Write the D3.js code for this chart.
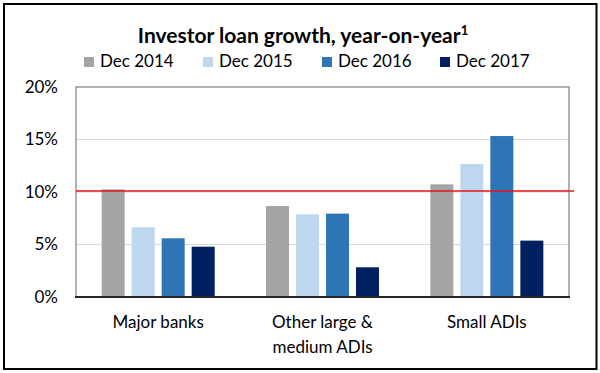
<!DOCTYPE html>
<html><head><meta charset="utf-8">
<script src="https://cdn.jsdelivr.net/npm/d3@7"></script>
<style>
html,body{margin:0;padding:0;background:#fff;}
svg{display:block;font-family:Lato,"Open Sans",sans-serif;}
</style></head>
<body>
<svg id="chart" width="600" height="373"></svg>
<script>
const categories = [["Major banks"], ["Other large &", "medium ADIs"], ["Small ADIs"]];
const seriesNames = ["Dec 2014", "Dec 2015", "Dec 2016", "Dec 2017"];
const dec2014 = [10.26, 8.67, 10.73];
const dec2015 = [6.64, 7.87, 12.67];
const dec2016 = [5.59, 7.94, 15.33];
const dec2017 = [4.79, 2.83, 5.37];
const yTicks = [0, 5, 10, 15, 20];
const refLine = 10.1;
const colors = ["#A5A5A5", "#BDD7EE", "#2E75B6", "#002060"];

const seriesValues = [dec2014, dec2015, dec2016, dec2017];
const catKeys = categories.map(c => c.join(" "));

const svg = d3.select("#chart");
const L = 76, R = 569, T = 87, B = 297;

// outer border
svg.append("rect").attr("x", 4).attr("y", 4).attr("width", 592.5).attr("height", 365)
  .attr("fill", "#fff").attr("stroke", "#000").attr("stroke-width", 2);

const x0 = d3.scaleBand().domain(catKeys).range([L, R]).paddingInner(0).paddingOuter(0);
const x1 = d3.scaleBand().domain(seriesNames).range([0, x0.bandwidth()])
  .paddingInner(7 / 30).paddingOuter(0.855);
const y = d3.scaleLinear().domain([0, 20]).range([B, T]);

// gridlines
svg.append("g").selectAll("line").data(yTicks.filter(t => t > 0 && t < 20)).join("line")
  .attr("x1", L).attr("x2", R).attr("y1", d => y(d)).attr("y2", d => y(d))
  .attr("stroke", "#D9D9D9").attr("stroke-width", 1.2);

// plot frame
svg.append("rect").attr("x", L).attr("y", y(20)).attr("width", R - L).attr("height", B - y(20))
  .attr("fill", "none").attr("stroke", "#7F7F7F").attr("stroke-width", 1.2);

// bars
const groups = svg.append("g").selectAll("g").data(catKeys).join("g")
  .attr("transform", d => `translate(${x0(d)},0)`);
groups.selectAll("rect").data((d, i) => seriesNames.map((s, j) => ({ s, j, v: seriesValues[j][i] })))
  .join("rect")
  .attr("x", d => x1(d.s)).attr("width", x1.bandwidth())
  .attr("y", d => y(d.v)).attr("height", d => B - y(d.v))
  .attr("fill", d => colors[d.j]);

// x axis line
svg.append("line").attr("x1", L - 1).attr("x2", R + 1).attr("y1", B).attr("y2", B)
  .attr("stroke", "#262626").attr("stroke-width", 2);

// red reference line
svg.append("line").attr("x1", L).attr("x2", 574).attr("y1", y(refLine)).attr("y2", y(refLine))
  .attr("stroke", "#E8141B").attr("stroke-width", 1.5);

// y axis labels
const yAxis = d3.axisLeft(y).tickValues(yTicks).tickFormat(d => d + "%").tickSize(0).tickPadding(0);
const ya = svg.append("g").attr("transform", `translate(58,0)`).call(yAxis);
ya.select(".domain").remove();
ya.selectAll("text").attr("font-size", 17).attr("fill", "#000").attr("font-family", "Lato,sans-serif");

// x axis labels
const xl = svg.append("g");
categories.forEach((lines, i) => {
  const t = xl.append("text").attr("x", x0(catKeys[i]) + x0.bandwidth() / 2).attr("y", 328)
    .attr("text-anchor", "middle").attr("font-size", 17).attr("fill", "#000");
  lines.forEach((ln, k) => t.append("tspan").attr("x", x0(catKeys[i]) + x0.bandwidth() / 2)
    .attr("dy", k === 0 ? 0 : 25).text(ln));
});

// title
const title = svg.append("text").attr("x", 303).attr("y", 43).attr("text-anchor", "middle")
  .attr("font-size", 21).attr("font-weight", "bold").attr("fill", "#000");
title.append("tspan").text("Investor loan growth, year-on-year");
title.append("tspan").attr("font-size", 13).attr("dy", -8).text("1");

// legend
const legX = [84, 203, 322, 440];
const leg = svg.append("g");
seriesNames.forEach((s, i) => {
  leg.append("rect").attr("x", legX[i]).attr("y", 57).attr("width", 10).attr("height", 10).attr("fill", colors[i]);
  leg.append("text").attr("x", legX[i] + 16).attr("y", 67).attr("font-size", 17).attr("fill", "#000").text(s);
});
</script>
</body></html>
